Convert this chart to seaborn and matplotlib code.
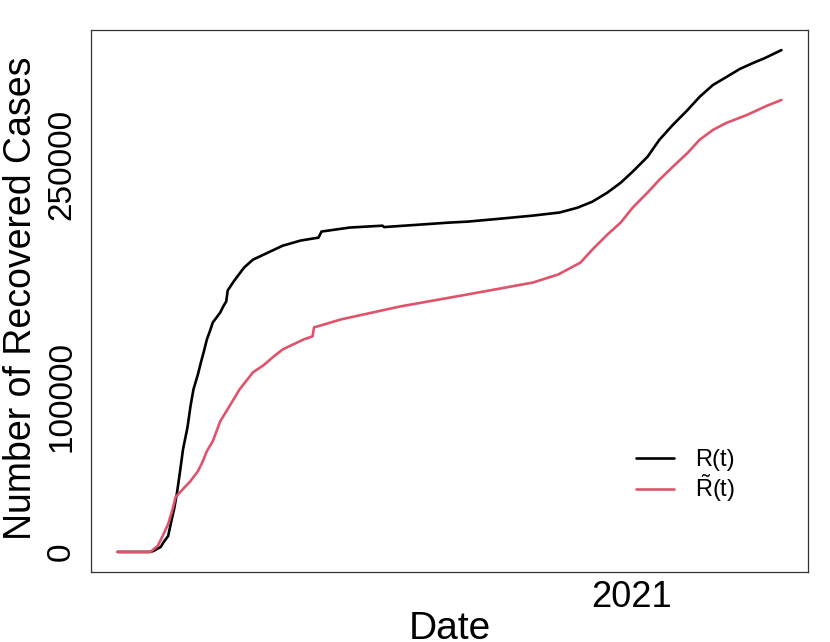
import numpy as np
import pandas as pd
import seaborn as sns
import matplotlib.pyplot as plt
import matplotlib.dates as mdates

# R(t) - casos recuperados observados
datas_r = ['2020-01-22', '2020-02-13', '2020-02-15', '2020-02-20', '2020-02-22',
           '2020-02-25', '2020-02-27', '2020-02-29', '2020-03-02', '2020-03-04',
           '2020-03-06', '2020-03-09', '2020-03-11', '2020-03-13', '2020-03-16',
           '2020-03-18', '2020-03-20', '2020-03-22', '2020-03-24', '2020-03-26',
           '2020-03-29', '2020-03-31', '2020-04-02', '2020-04-04', '2020-04-05',
           '2020-04-09', '2020-04-16', '2020-04-22', '2020-05-02', '2020-05-12',
           '2020-05-24', '2020-06-05', '2020-06-07', '2020-06-26', '2020-07-18',
           '2020-07-19', '2020-09-01', '2020-09-13', '2020-10-05', '2020-10-27',
           '2020-11-14', '2020-11-26', '2020-12-06', '2020-12-16', '2020-12-25',
           '2021-01-02', '2021-01-12', '2021-01-20', '2021-01-29', '2021-02-08',
           '2021-02-16', '2021-02-25', '2021-03-06', '2021-03-15', '2021-03-24',
           '2021-04-01', '2021-04-12']
valores_r = [0, 0, 600, 3200, 6400,
             10300, 19300, 27700, 38600, 52100,
             66300, 80500, 94000, 104900, 114600,
             122300, 129400, 137100, 142300, 148100,
             151900, 154500, 158400, 161600, 168700,
             174500, 183500, 188600, 193100, 197600,
             200900, 202800, 206700, 209300, 210500,
             209600, 212500, 213100, 215000, 217000,
             219000, 222100, 226000, 231800, 238200,
             245300, 254900, 265900, 275500, 285200,
             293600, 301300, 306400, 311600, 315500,
             318700, 323800]

# R~(t) - casos recuperados estimados
datas_rt = ['2020-01-22', '2020-02-13', '2020-02-18', '2020-02-21', '2020-02-25',
            '2020-02-28', '2020-03-01', '2020-03-06', '2020-03-11', '2020-03-16',
            '2020-03-19', '2020-03-22', '2020-03-26', '2020-03-31', '2020-04-07',
            '2020-04-13', '2020-04-22', '2020-04-29', '2020-05-06', '2020-05-12',
            '2020-05-19', '2020-05-26', '2020-06-01', '2020-06-02', '2020-06-11',
            '2020-06-20', '2020-07-30', '2020-09-13', '2020-10-27', '2020-11-13',
            '2020-11-28', '2020-12-06', '2020-12-16', '2020-12-25', '2021-01-02',
            '2021-01-12', '2021-01-20', '2021-01-29', '2021-02-08', '2021-02-16',
            '2021-02-25', '2021-03-06', '2021-03-20', '2021-04-02', '2021-04-12']
valores_rt = [0, 0, 3900, 9700, 18000,
              27700, 35400, 40600, 45700, 52100,
              57900, 65000, 71500, 84300, 95300,
              104900, 115900, 120400, 126200, 130700,
              133900, 137100, 139100, 144900, 147400,
              150000, 158400, 166100, 173800, 179000,
              186700, 195100, 204700, 212500, 222100,
              231800, 240100, 248500, 257500, 265900,
              272300, 276800, 282000, 287800, 291600]

nomes = ['R(t)', r'$\tilde{\mathrm{R}}\mathrm{(t)}$']
cores = ['black', '#DF536B']

df = pd.concat([
    pd.DataFrame({'data': pd.to_datetime(datas_r), 'valor': valores_r, 'serie': nomes[0]}),
    pd.DataFrame({'data': pd.to_datetime(datas_rt), 'valor': valores_rt, 'serie': nomes[1]}),
])

sns.set_style('white')
plt.rcParams['font.family'] = ['Liberation Sans', 'DejaVu Sans']
plt.rcParams['text.color'] = 'black'
plt.rcParams['axes.labelcolor'] = 'black'
plt.rcParams['mathtext.fontset'] = 'custom'
plt.rcParams['mathtext.rm'] = 'Liberation Sans'
plt.rcParams['mathtext.it'] = 'Liberation Sans'

fig = plt.figure(figsize=(8.3, 6.42), dpi=100)
ax = fig.add_axes([91 / 830, 1 - 572 / 642, 717 / 830, 542 / 642])

sns.lineplot(data=df, x='data', y='valor', hue='serie', palette=cores,
             estimator=None, linewidth=1.9, ax=ax)

# limites com 4% de margem, como no R
x0, x1 = pd.Timestamp(datas_r[0]), pd.Timestamp(datas_r[-1])
pad = (x1 - x0) * 0.04
ax.set_xlim(x0 - pad, x1 + pad)
ymax = max(valores_r)
ax.set_ylim(-0.04 * ymax, 1.04 * ymax)

ax.xaxis.set_major_locator(mdates.YearLocator())
ax.xaxis.set_major_formatter(mdates.DateFormatter('%Y'))

yt = [0, 50000, 100000, 150000, 200000, 250000, 300000]
ax.set_yticks(yt)
ax.set_yticklabels(['0', '', '100000', '', '', '250000', ''], rotation=90, va='center')

ax.tick_params(axis='both', direction='out', length=5, width=0.8, colors='#333333',
               labelcolor='black')
ax.tick_params(axis='y', pad=5, labelsize=24)
ax.tick_params(axis='x', pad=1, labelsize=26)

ax.set_xlabel('Date', fontsize=28)
ax.set_ylabel('Number of Recovered Cases', fontsize=27)
ax.xaxis.set_label_coords(0.5, -0.072)
ax.yaxis.set_label_coords(-0.072, 0.505)

for s in ax.spines.values():
    s.set_color('#333333')
    s.set_linewidth(0.9)

ax.legend(frameon=False, fontsize=17, loc='upper left',
          bbox_to_anchor=(615 / 830, 1 - 428 / 642), bbox_transform=fig.transFigure,
          handlelength=1.6, handletextpad=0.9, labelspacing=0.05)

fig.savefig('out.png', dpi=100)
